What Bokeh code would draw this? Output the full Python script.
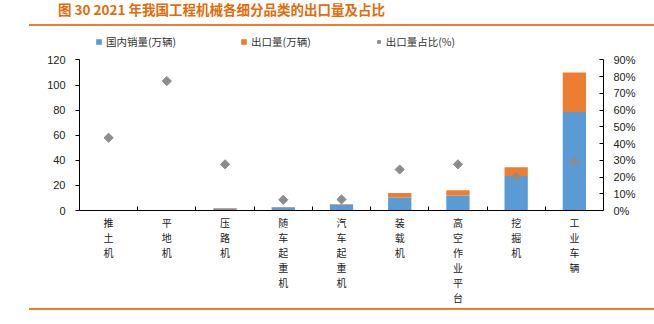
import math
from bokeh.plotting import figure
from bokeh.layouts import column
from bokeh.models import (ColumnDataSource, Range1d, LinearAxis, FixedTicker,
                          PrintfTickFormatter, Legend, LegendItem, Div)
from bokeh.embed import file_html
from bokeh.resources import INLINE

title_text = "图 30 2021 年我国工程机械各细分品类的出口量及占比"
categories = ["推土机", "平地机", "压路机", "随车起重机", "汽车起重机",
              "装载机", "高空作业平台", "挖掘机", "工业车辆"]
domestic = [0.25, 0.06, 1.4, 2.6, 4.8, 10.4, 12.0, 27.6, 78.5]   # 国内销量(万辆)
export = [0.2, 0.2, 0.55, 0.18, 0.34, 3.5, 4.1, 6.8, 31.5]       # 出口量(万辆)
ratio = [43.5, 77.4, 27.6, 6.4, 6.6, 24.5, 27.6, 19.9, 29.2]     # 出口量占比(%)
left_ticks = [0, 20, 40, 60, 80, 100, 120]
right_ticks = [0, 10, 20, 30, 40, 50, 60, 70, 80, 90]
legend_labels = ["国内销量(万辆)", "出口量(万辆)", "出口量占比(%)"]

BLUE = "#5B9BD5"
ORANGE = "#ED7D31"
GRAY = "#8C8C8C"
TITLE_C = "#E36C0A"
CJK = "Noto Sans CJK SC"
LAT = "Liberation Sans"

# layout (pixels)
FIG_H = 280
FRAME_H = 186            # frame from figure top to the x axis
AXIS_H = 153             # height of the 0..max axis span
L_MAX = left_ticks[-1]
R_MAX = right_ticks[-1]

n = len(categories)
xs = [i + 0.5 for i in range(n)]
source = ColumnDataSource(dict(x=xs, domestic=domestic, export=export, ratio=ratio))

top_div = Div(width=654, height=27, margin=0, text=(
    f'<div style="position:relative;width:654px;height:27px;">'
    f'<div style="position:absolute;left:58px;top:1px;font-family:\'{CJK}\';'
    f'font-size:13.5px;font-weight:bold;color:{TITLE_C};white-space:nowrap;line-height:16px;">'
    f'{title_text}</div>'
    f'<div style="position:absolute;left:29px;top:24px;width:625px;height:2px;'
    f'background:{ORANGE};"></div></div>'))

p = figure(width=654, height=FIG_H, output_backend="svg", toolbar_location=None,
           x_range=Range1d(0, n), y_range=Range1d(0, L_MAX * FRAME_H / AXIS_H),
           min_border_left=79, min_border_right=51, min_border_top=0,
           min_border_bottom=FIG_H - FRAME_H,
           background_fill_color="white", border_fill_color="white", margin=0)
p.outline_line_color = None
p.grid.visible = False
p.extra_y_ranges = {"pct": Range1d(0, R_MAX * FRAME_H / AXIS_H)}

rs = p.vbar_stack(["domestic", "export"], x="x", width=0.4, color=[BLUE, ORANGE],
                  line_color=None, source=source)
sc = p.scatter("x", "ratio", source=source, y_range_name="pct", marker="square",
               angle=math.pi / 4, size=6.5, fill_color=GRAY, line_color=GRAY)

# x axis
xa = p.xaxis[0]
xa.ticker = FixedTicker(ticks=xs, minor_ticks=list(range(1, n)))
xa.major_label_overrides = {x: "\n".join(c) for x, c in zip(xs, categories)}
xa.major_tick_in = 0
xa.major_tick_out = 0
xa.minor_tick_in = 4
xa.minor_tick_out = 0
xa.minor_tick_line_color = "black"
xa.axis_line_color = "black"
xa.major_label_text_font = CJK
xa.major_label_text_font_size = "10px"
xa.major_label_text_color = "#222222"
xa.major_label_text_line_height = 1.0
xa.major_label_standoff = 4

# left axis
ya = p.yaxis[0]
ya.ticker = FixedTicker(ticks=left_ticks)
ya.bounds = (0, L_MAX)
ya.major_tick_in = 0
ya.major_tick_out = 4
ya.minor_tick_line_color = None
ya.axis_line_color = "black"
ya.major_tick_line_color = "black"
ya.major_label_text_font = LAT
ya.major_label_text_font_size = "11px"
ya.major_label_text_color = "#222222"
ya.major_label_standoff = 10

# right axis
ra = LinearAxis(y_range_name="pct", ticker=FixedTicker(ticks=right_ticks),
                formatter=PrintfTickFormatter(format="%d%%"), bounds=(0, R_MAX))
ra.major_tick_in = 4
ra.major_tick_out = 0
ra.minor_tick_line_color = None
ra.axis_line_color = "black"
ra.major_tick_line_color = "black"
ra.major_label_text_font = LAT
ra.major_label_text_font_size = "11px"
ra.major_label_text_color = "#222222"
ra.major_label_standoff = 10
p.add_layout(ra, "right")

# legend inside the frame, above the axis span
legend = Legend(items=[LegendItem(label=legend_labels[0], renderers=[rs[0]]),
                       LegendItem(label=legend_labels[1], renderers=[rs[1]]),
                       LegendItem(label=legend_labels[2], renderers=[sc])],
                orientation="horizontal", location=(16, 161),
                glyph_width=7, glyph_height=7, label_standoff=4, spacing=64,
                padding=2, margin=0, label_height=12,
                label_text_font=CJK, label_text_font_size="10.5px",
                label_text_color="#333333",
                border_line_color=None, background_fill_alpha=0)
p.add_layout(legend, "center")

bottom_div = Div(width=654, height=17, margin=0, text=(
    f'<div style="position:relative;width:654px;height:17px;">'
    f'<div style="position:absolute;left:29px;top:1px;width:625px;height:2px;'
    f'background:{ORANGE};"></div></div>'))

layout = column(top_div, p, bottom_div, spacing=0)
open("out.html", "w").write(file_html(layout, INLINE))
